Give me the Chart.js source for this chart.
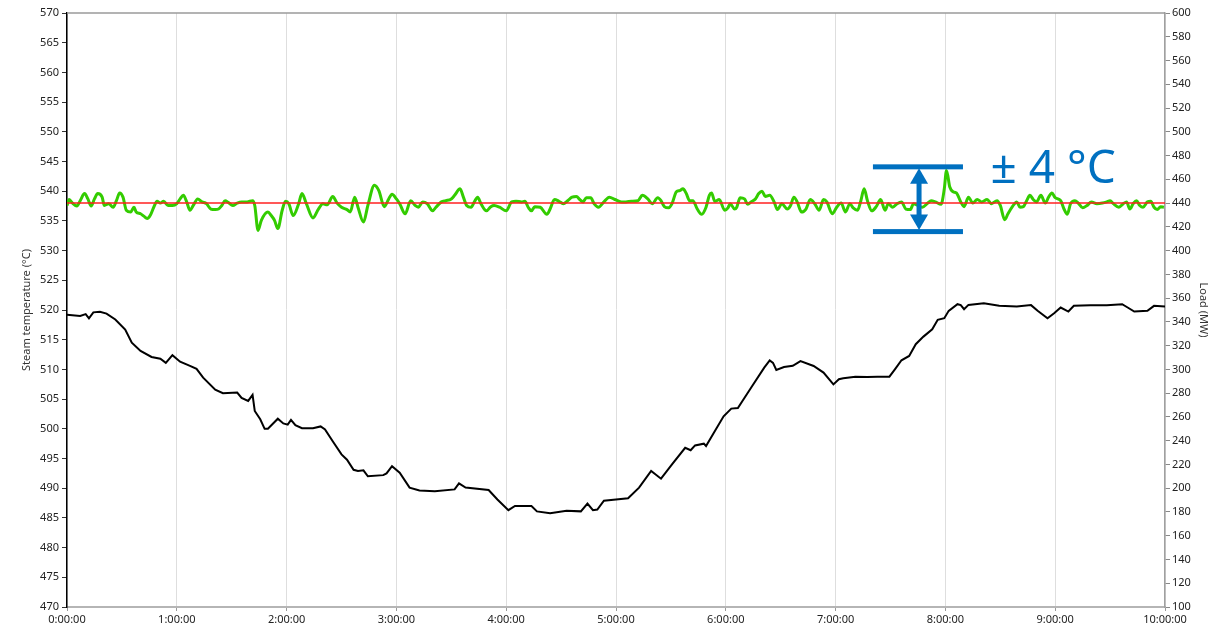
<!DOCTYPE html>
<html lang="en">

<head>
    <meta charset="UTF-8">
    <script src="https://cdn.jsdelivr.net/npm/chart.js@4.4.0/dist/chart.umd.min.js"></script>
    <title>Steam temperature and load</title>
    <style>
        body { margin: 0; background: #fff; }
        #wrap { width: 1221px; height: 633px; }
    </style>
</head>

<body>
    <div id="wrap"><canvas id="myChart"></canvas></div>
    <script>
        // load (MW), right axis
        const loadHours = [0, 0.12, 0.17, 0.2, 0.24, 0.30, 0.36, 0.44, 0.53, 0.59,
            0.67, 0.77, 0.85, 0.90, 0.96, 1.03, 1.12, 1.18, 1.24, 1.35,
            1.42, 1.55, 1.59, 1.65, 1.69, 1.71, 1.76, 1.80, 1.83, 1.92,
            1.97, 2.01, 2.04, 2.08, 2.14, 2.24, 2.31, 2.35, 2.42, 2.50,
            2.55, 2.61, 2.65, 2.70, 2.74, 2.88, 2.91, 2.96, 3.03, 3.12,
            3.21, 3.35, 3.53, 3.57, 3.63, 3.84, 3.92, 4.02, 4.08, 4.23,
            4.28, 4.40, 4.55, 4.68, 4.74, 4.79, 4.83, 4.89, 5.0, 5.11,
            5.21, 5.32, 5.41, 5.51, 5.63, 5.68, 5.72, 5.80, 5.82, 5.89,
            5.98, 6.05, 6.11, 6.23, 6.35, 6.40, 6.43, 6.46, 6.53, 6.61,
            6.68, 6.80, 6.89, 6.98, 7.03, 7.07, 7.18, 7.29, 7.38, 7.49,
            7.54, 7.60, 7.67, 7.73, 7.80, 7.88, 7.93, 7.99, 8.03, 8.11,
            8.14, 8.17, 8.21, 8.35, 8.49, 8.65, 8.78, 8.84, 8.93, 8.99,
            9.05, 9.12, 9.17, 9.32, 9.47, 9.61, 9.66, 9.72, 9.84, 9.90,
            10.0];
        const loadMW = [346, 345, 346.5, 343, 348, 348.5, 347, 342, 333.5, 322.5,
            315.5, 310.5, 309, 305.5, 312, 306.5, 303, 300.5, 293, 283,
            280, 280.5, 276, 273.5, 278.5, 265, 258, 250, 250, 258.5,
            254.5, 253.5, 257.5, 253, 250.5, 250.5, 252, 249.5, 239.5, 228.5,
            224, 215.5, 214.5, 215, 210, 211, 212.5, 218.5, 213, 200.5,
            198, 197.5, 199, 204, 200.5, 198.5, 190.5, 181.5, 185, 185,
            180.5, 179, 181, 180.5, 187, 181.5, 182, 189.5, 190.5, 191.5,
            200.5, 214.5, 208, 220, 234, 232, 236, 237.5, 235.5, 246.5,
            260.5, 267, 267.5, 284.5, 301.5, 307.5, 305.5, 299.5, 302, 303,
            307, 302.9, 297.3, 287.4, 291.7, 292.5, 293.9, 293.6, 293.9, 293.9,
            300.1, 307.7, 311.3, 321.2, 327.6, 333.8, 341.7, 343.1, 349.3, 354.9,
            354.1, 350.7, 354.3, 355.7, 353.5, 352.9, 354.1, 349.3, 343.1, 347.3,
            352.1, 348.7, 353.5, 354.1, 354.1, 354.9, 352.1, 348.7, 349.3, 353.5,
            352.9];

        // steam temperature (°C), left axis
        const tempHours = [0.00, 0.02, 0.05, 0.09, 0.12, 0.16, 0.19, 0.22, 0.25, 0.28,
            0.32, 0.34, 0.38, 0.42, 0.45, 0.48, 0.51, 0.54, 0.58, 0.61,
            0.63, 0.67, 0.70, 0.73, 0.76, 0.79, 0.82, 0.85, 0.88, 0.92,
            0.96, 1.00, 1.03, 1.06, 1.09, 1.12, 1.15, 1.19, 1.23, 1.27,
            1.31, 1.35, 1.38, 1.41, 1.44, 1.47, 1.51, 1.55, 1.59, 1.64,
            1.69, 1.71, 1.74, 1.77, 1.83, 1.86, 1.89, 1.92, 1.96, 1.99,
            2.02, 2.06, 2.11, 2.14, 2.18, 2.24, 2.29, 2.33, 2.37, 2.42,
            2.46, 2.50, 2.55, 2.58, 2.62, 2.65, 2.70, 2.74, 2.80, 2.84,
            2.89, 2.93, 2.96, 3.00, 3.03, 3.08, 3.13, 3.17, 3.20, 3.24,
            3.28, 3.33, 3.36, 3.41, 3.45, 3.50, 3.53, 3.58, 3.61, 3.64,
            3.68, 3.71, 3.74, 3.77, 3.82, 3.86, 3.89, 3.94, 4.00, 4.05,
            4.09, 4.14, 4.17, 4.20, 4.23, 4.26, 4.31, 4.37, 4.40, 4.44,
            4.48, 4.52, 4.56, 4.60, 4.64, 4.67, 4.70, 4.73, 4.77, 4.80,
            4.84, 4.89, 4.94, 4.99, 5.05, 5.09, 5.14, 5.20, 5.24, 5.29,
            5.33, 5.38, 5.41, 5.44, 5.48, 5.51, 5.55, 5.58, 5.61, 5.64,
            5.67, 5.70, 5.74, 5.78, 5.82, 5.85, 5.87, 5.90, 5.94, 5.99,
            6.02, 6.04, 6.08, 6.10, 6.13, 6.17, 6.20, 6.23, 6.27, 6.30,
            6.33, 6.36, 6.40, 6.44, 6.47, 6.51, 6.56, 6.59, 6.62, 6.65,
            6.69, 6.73, 6.77, 6.81, 6.85, 6.89, 6.92, 6.97, 7.01, 7.05,
            7.09, 7.13, 7.16, 7.20, 7.23, 7.26, 7.29, 7.33, 7.37, 7.41,
            7.45, 7.48, 7.52, 7.56, 7.60, 7.64, 7.68, 7.71, 7.79, 7.84,
            7.87, 7.91, 7.96, 7.99, 8.01, 8.04, 8.07, 8.10, 8.14, 8.17,
            8.21, 8.25, 8.29, 8.33, 8.38, 8.42, 8.47, 8.50, 8.54, 8.57,
            8.61, 8.65, 8.68, 8.71, 8.74, 8.77, 8.80, 8.83, 8.87, 8.91,
            8.94, 8.97, 9.00, 9.05, 9.08, 9.11, 9.14, 9.18, 9.21, 9.25,
            9.29, 9.33, 9.38, 9.43, 9.47, 9.50, 9.53, 9.58, 9.62, 9.65,
            9.68, 9.71, 9.74, 9.77, 9.80, 9.84, 9.87, 9.90, 9.93, 9.96,
            9.99];
        const tempC = [537.6, 538.6, 538.0, 537.5, 538.4, 539.6, 538.7, 537.5, 538.7, 539.6,
            539.0, 537.6, 537.9, 537.3, 538.4, 539.7, 539.0, 536.8, 536.5, 537.3,
            536.5, 536.2, 535.8, 535.4, 536.0, 537.3, 538.3, 538.0, 538.3, 537.6,
            537.6, 537.9, 538.7, 539.3, 538.2, 536.8, 537.6, 538.7, 538.2, 537.9,
            537.0, 536.9, 537.0, 537.6, 538.4, 538.1, 537.6, 538.0, 538.2, 538.2,
            538.4, 537.6, 533.4, 535.1, 536.5, 535.9, 535.1, 533.7, 536.8, 538.3,
            537.9, 535.9, 537.9, 539.6, 537.9, 535.5, 537.0, 537.9, 537.7, 539.1,
            538.0, 537.3, 536.9, 536.5, 539.0, 537.3, 534.8, 537.6, 541.0, 540.1,
            537.4, 538.7, 539.5, 538.7, 537.9, 536.2, 538.4, 537.6, 537.3, 538.2,
            537.9, 536.7, 537.3, 538.2, 538.4, 538.7, 539.3, 540.4, 539.0, 537.6,
            537.3, 538.2, 539.0, 537.9, 536.7, 537.4, 537.6, 537.3, 536.7, 538.2,
            538.3, 538.2, 538.3, 537.3, 536.7, 537.4, 537.3, 536.1, 537.0, 538.6,
            538.3, 537.9, 538.4, 539.0, 539.1, 538.6, 538.2, 538.9, 538.9, 537.9,
            537.3, 538.2, 539.0, 538.6, 538.2, 538.2, 538.3, 538.4, 539.3, 538.7,
            537.9, 538.9, 538.4, 537.4, 537.2, 537.9, 539.9, 540.1, 540.4, 539.6,
            538.4, 538.4, 537.0, 536.1, 537.3, 539.3, 539.7, 538.3, 538.6, 536.8,
            537.2, 537.9, 537.0, 537.3, 538.9, 538.7, 537.8, 538.2, 538.7, 539.6,
            540.0, 539.1, 539.3, 538.2, 536.9, 537.9, 537.0, 537.6, 539.0, 538.2,
            536.5, 537.0, 538.6, 537.9, 536.8, 538.6, 538.2, 536.2, 537.3, 538.0,
            536.5, 537.9, 537.2, 536.8, 538.4, 540.4, 538.4, 536.7, 537.4, 538.6,
            536.8, 537.9, 537.3, 537.9, 538.2, 537.0, 536.9, 537.9, 537.3, 538.0,
            538.4, 538.2, 537.8, 540.4, 543.5, 540.7, 539.9, 539.7, 538.2, 537.4,
            539.0, 538.0, 538.6, 538.2, 538.6, 537.9, 538.4, 537.6, 535.2, 536.2,
            537.4, 538.2, 537.3, 537.4, 538.4, 539.3, 538.6, 538.2, 539.3, 538.0,
            539.0, 539.7, 538.9, 538.4, 537.0, 536.1, 537.9, 538.4, 538.0, 537.2,
            537.6, 538.2, 537.9, 538.0, 538.2, 538.4, 537.9, 537.3, 537.9, 538.2,
            537.0, 537.9, 538.4, 537.6, 537.3, 538.2, 538.3, 537.3, 536.9, 537.4,
            537.3];

        // setpoint
        const setHours = [0, 10];
        const setC = [538, 538];

        // ± 4 °C marker, in data units
        const bandHours = [7.34, 8.16];
        const bandC = [533.2, 544.1];
        const arrowHour = 7.76;
        const labelHour = 8.41;
        const labelC = 541.4;
        const labelText = '± 4 °C';

        const font = 'Noto Sans';
        const blue = '#0070c0';

        const toPoints = (xs, ys) => xs.map((h, i) => ({ x: h, y: ys[i] }));

        const markerPlugin = {
            id: 'marker',
            afterDatasetsDraw(chart) {
                const { ctx, chartArea } = chart;
                const x = chart.scales.x;
                const y = chart.scales.y;
                ctx.save();
                // top frame line
                ctx.strokeStyle = '#9a9a9a';
                ctx.lineWidth = 1.5;
                ctx.beginPath();
                ctx.moveTo(chartArea.left, chartArea.top);
                ctx.lineTo(chartArea.right, chartArea.top);
                ctx.stroke();

                const xl = x.getPixelForValue(bandHours[0]);
                const xr = x.getPixelForValue(bandHours[1]);
                const xm = x.getPixelForValue(arrowHour);
                const yt = y.getPixelForValue(bandC[1]);
                const yb = y.getPixelForValue(bandC[0]);
                ctx.fillStyle = blue;
                ctx.fillRect(xl, yt - 2.5, xr - xl, 5);
                ctx.fillRect(xl, yb - 2.5, xr - xl, 5);
                ctx.fillRect(xm - 2.5, yt + 14, 5, yb - yt - 28);
                ctx.beginPath();
                ctx.moveTo(xm, yt + 1.5);
                ctx.lineTo(xm - 9, yt + 17);
                ctx.lineTo(xm + 9, yt + 17);
                ctx.closePath();
                ctx.fill();
                ctx.beginPath();
                ctx.moveTo(xm, yb - 1.5);
                ctx.lineTo(xm - 9, yb - 17);
                ctx.lineTo(xm + 9, yb - 17);
                ctx.closePath();
                ctx.fill();

                ctx.font = '46px "' + font + '"';
                ctx.textBaseline = 'alphabetic';
                ctx.textAlign = 'left';
                ctx.fillText(labelText, x.getPixelForValue(labelHour), y.getPixelForValue(labelC));
                ctx.restore();
            }
        };

        const ctx = document.getElementById('myChart').getContext('2d');
        const myChart = new Chart(ctx, {
            type: 'line',
            data: {
                datasets: [{
                    label: 'Setpoint',
                    data: toPoints(setHours, setC),
                    borderColor: '#ff2020',
                    borderWidth: 1.5,
                    pointRadius: 0,
                    yAxisID: 'y'
                }, {
                    label: 'Steam temperature',
                    data: toPoints(tempHours, tempC),
                    borderColor: '#33cc00',
                    borderWidth: 3,
                    pointRadius: 0,
                    cubicInterpolationMode: 'monotone',
                    yAxisID: 'y'
                }, {
                    label: 'Load',
                    data: toPoints(loadHours, loadMW),
                    borderColor: '#000000',
                    borderWidth: 2,
                    pointRadius: 0,
                    tension: 0,
                    yAxisID: 'y1'
                }]
            },
            options: {
                responsive: true,
                maintainAspectRatio: false,
                animation: false,
                layout: { padding: { top: 13, left: 0, right: 0, bottom: 0 } },
                plugins: {
                    legend: { display: false },
                    tooltip: { enabled: false }
                },
                scales: {
                    x: {
                        type: 'linear',
                        min: 0,
                        max: 10,
                        ticks: {
                            stepSize: 1,
                            autoSkip: false,
                            maxRotation: 0,
                            padding: 2,
                            color: '#222',
                            font: { family: font, size: 11 },
                            callback: v => v + ':00:00'
                        },
                        grid: { color: '#dedede', tickLength: 4, tickColor: '#999' },
                        border: { color: '#b5b5b5', width: 2 },
                        afterFit(s) { s.height = 26; }
                    },
                    y: {
                        position: 'left',
                        min: 470,
                        max: 570,
                        ticks: {
                            stepSize: 5,
                            autoSkip: false,
                            padding: 3,
                            color: '#222',
                            font: { family: font, size: 11 }
                        },
                        grid: { drawOnChartArea: false, tickLength: 5, tickColor: '#333' },
                        border: { color: '#000', width: 1.5 },
                        title: {
                            display: true,
                            text: 'Steam temperature (°C)',
                            color: '#333',
                            font: { family: font, size: 11 },
                            padding: { top: 20, bottom: 0 }
                        },
                        afterFit(s) { s.width = 67; }
                    },
                    y1: {
                        position: 'right',
                        min: 100,
                        max: 600,
                        ticks: {
                            stepSize: 20,
                            autoSkip: false,
                            padding: 2,
                            color: '#222',
                            font: { family: font, size: 11 }
                        },
                        grid: { drawOnChartArea: false, tickLength: 5, tickColor: '#888' },
                        border: { color: '#a0a0a0', width: 1.5 },
                        title: {
                            display: true,
                            text: 'Load (MW)',
                            color: '#333',
                            font: { family: font, size: 11 },
                            padding: { top: 11, bottom: 0 }
                        },
                        afterFit(s) { s.width = 56; }
                    }
                }
            },
            plugins: [markerPlugin]
        });
    </script>
</body>

</html>
